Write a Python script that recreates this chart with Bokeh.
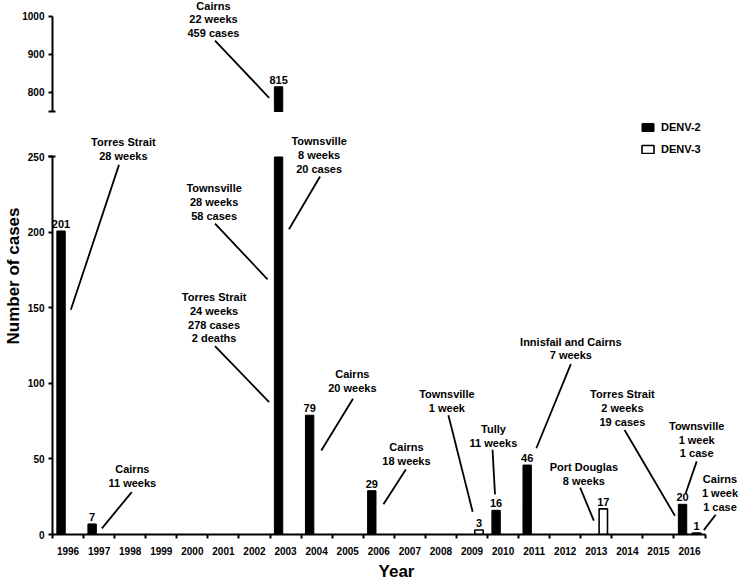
import numpy as np
from bokeh.plotting import figure
from bokeh.layouts import column
from bokeh.models import ColumnDataSource, Range1d, FixedTicker, Title
from bokeh.transform import dodge
from bokeh.core.properties import value
from bokeh.embed import file_html
from bokeh.resources import INLINE

# ---------------- data ----------------
years = list(range(1996, 2017))
year_labels = [str(y) for y in years]
denv2 = [201, 7, 0, 0, 0, 0, 0, 815, 79, 0, 29, 0, 0, 0, 16, 46, 0, 0, 0, 0, 20]
denv3 = [0, 0, 0, 0, 0, 0, 0, 0, 0, 0, 0, 0, 0, 3, 0, 0, 0, 17, 0, 0, 1]
lower_ticks = [0, 50, 100, 150, 200, 250]
upper_ticks = [800, 900, 1000]
lower_max = 250
upper_min = 750
upper_max = 1000

# outbreak annotations: text, text position, leader line (start -> end)
ann_text = [
    "Torres Strait\n28 weeks",
    "Townsville\n8 weeks\n20 cases",
    "Townsville\n28 weeks\n58 cases",
    "Torres Strait\n24 weeks\n278 cases\n2 deaths",
    "Cairns\n11 weeks",
    "Cairns\n20 weeks",
    "Cairns\n18 weeks",
    "Townsville\n1 week",
    "Tully\n11 weeks",
    "Innisfail and Cairns\n7 weeks",
    "Port Douglas\n8 weeks",
    "Torres Strait\n2 weeks\n19 cases",
    "Townsville\n1 week\n1 case",
    "Cairns\n1 week\n1 case",
]
ann_x = [1997.78, 2004.08, 2000.70, 2000.70, 1998.07, 2005.15, 2006.89, 2008.19, 2009.69, 2012.18, 2012.60, 2013.84, 2016.23, 2016.98]
ann_y = [255.3, 251.3, 220.1, 143.5, 38.6, 101.4, 53.3, 88.5, 65.0, 123.2, 40.1, 83.7, 62.8, 27.5]
ann_x0 = [1997.64, 2004.11, 2000.73, 2000.73, 1998.05, 2005.17, 2006.87, 2008.24, 2009.66, 2012.18, 2012.48, 2013.91, 2016.23, 2016.84]
ann_y0 = [244.8, 237.1, 205.9, 124.8, 28.1, 89.9, 43.0, 79.0, 56.1, 112.8, 31.0, 69.2, 48.4, 13.1]
ann_x1 = [1996.09, 2003.11, 2002.42, 2002.47, 1997.09, 2004.15, 2006.15, 2009.02, 2009.74, 2011.07, 2012.92, 2015.53, 2015.88, 2016.46]
ann_y1 = [148.8, 202.2, 169.0, 87.7, 4.1, 55.6, 20.1, 15.1, 26.6, 57.1, 9.2, 12.4, 27.5, 2.9]

up_text = ["Cairns\n22 weeks\n459 cases"]
up_x = [2000.68]
up_y = [992.1]
up_x0 = [2000.73]
up_y0 = [936.8]
up_x1 = [2002.47]
up_y1 = [786.1]

FONT = "Liberation Sans"
OFF2, OFF3, BW = -0.225, 0.225, 0.27

x_range = Range1d(1995.5, 2017.64)


def style_yaxis(p):
    ax = p.yaxis[0]
    ax.axis_line_width = 2
    ax.axis_line_color = "black"
    ax.major_tick_line_width = 2
    ax.major_tick_out = 4
    ax.major_tick_in = 0
    ax.minor_tick_line_width = 2
    ax.minor_tick_out = 4
    ax.minor_tick_in = 3
    ax.major_label_text_font = FONT
    ax.major_label_text_font_style = "bold"
    ax.major_label_text_font_size = "10px"
    ax.major_label_text_color = "black"
    ax.major_label_standoff = 4


def base(p):
    p.grid.visible = False
    p.outline_line_color = None
    p.background_fill_color = "white"
    p.border_fill_color = "white"


# ---------------- upper panel ----------------
up = figure(width=740, height=113, x_range=x_range, y_range=Range1d(744.7, 1042.1),
            output_backend="svg", toolbar_location=None, x_axis_location=None,
            min_border_left=52, min_border_right=0, min_border_top=0, min_border_bottom=0)
base(up)
up.yaxis.ticker = FixedTicker(ticks=upper_ticks, minor_ticks=[upper_min])
up.yaxis.bounds = (upper_min, upper_max)
style_yaxis(up)

big_years = [y for y, v in zip(years, denv2) if v > upper_min]
big_vals = [v for v in denv2 if v > upper_min]
src_up = ColumnDataSource(dict(year=big_years, top=big_vals, bottom=[upper_min] * len(big_vals),
                               lab=[str(v) for v in big_vals]))
up.vbar(x=dodge("year", OFF2), top="top", bottom="bottom", width=BW, source=src_up,
        fill_color="black", line_color="black")
up.text(x=dodge("year", OFF2), y="top", text="lab", source=src_up, text_align="center",
        text_baseline="bottom", y_offset=-3, text_font=value(FONT), text_font_style="bold",
        text_font_size="11px", text_color="black")
up.text(x=up_x, y=up_y, text=up_text, text_align="center", text_baseline="middle",
        text_font=value(FONT), text_font_style="bold", text_font_size="11px",
        text_line_height=1.15, text_color="black")
up.segment(x0=up_x0, y0=up_y0, x1=up_x1, y1=up_y1, line_color="black", line_width=1.8)

# ---------------- lower panel ----------------
lo = figure(width=740, height=470, x_range=x_range, y_range=Range1d(0, 278.8),
            output_backend="svg", toolbar_location=None,
            min_border_left=52, min_border_right=0, min_border_top=0, min_border_bottom=44)
base(lo)
lo.yaxis.ticker = FixedTicker(ticks=lower_ticks, minor_ticks=[lower_max])
lo.yaxis.bounds = (0, lower_max)
style_yaxis(lo)

xa = lo.xaxis[0]
xa.ticker = FixedTicker(ticks=years, minor_ticks=[y - 0.5 for y in years] + [years[-1] + 0.5])
xa.major_label_overrides = {y: l for y, l in zip(years, year_labels)}
xa.bounds = (years[0] - 0.5, years[-1] + 0.5)
xa.axis_line_width = 2
xa.axis_line_color = "black"
xa.major_tick_line_color = None
xa.major_tick_out = 0
xa.major_tick_in = 0
xa.minor_tick_line_width = 2
xa.minor_tick_line_color = "black"
xa.minor_tick_out = 4
xa.minor_tick_in = 0
xa.major_label_text_font = FONT
xa.major_label_text_font_style = "bold"
xa.major_label_text_font_size = "10px"
xa.major_label_text_color = "black"
xa.major_label_standoff = 8
xa.axis_label = "Year"
xa.axis_label_text_font = FONT
xa.axis_label_text_font_style = "bold"
xa.axis_label_text_font_size = "17px"
xa.axis_label_text_color = "black"
xa.axis_label_standoff = 4

d2 = [(y, v) for y, v in zip(years, denv2) if v > 0]
d3 = [(y, v) for y, v in zip(years, denv3) if v > 0]
src2 = ColumnDataSource(dict(year=[a for a, b in d2], top=[min(b, lower_max) for a, b in d2],
                             val=[b for a, b in d2]))
src3 = ColumnDataSource(dict(year=[a for a, b in d3], top=[min(b, lower_max) for a, b in d3],
                             val=[b for a, b in d3]))
lo.vbar(x=dodge("year", OFF2), top="top", bottom=0, width=BW, source=src2,
        fill_color="black", line_color="black", line_width=1, legend_label="DENV-2")
lo.vbar(x=dodge("year", OFF3), top="top", bottom=0, width=BW, source=src3,
        fill_color="white", line_color="black", line_width=1.6, legend_label="DENV-3")

lab2 = ColumnDataSource(dict(year=[a for a, b in d2 if b <= lower_max],
                             top=[b for a, b in d2 if b <= lower_max],
                             lab=[str(b) for a, b in d2 if b <= lower_max]))
lab3 = ColumnDataSource(dict(year=[a for a, b in d3 if b <= lower_max],
                             top=[b for a, b in d3 if b <= lower_max],
                             lab=[str(b) for a, b in d3 if b <= lower_max]))
for s, off in ((lab2, OFF2), (lab3, OFF3)):
    lo.text(x=dodge("year", off), y="top", text="lab", source=s, text_align="center",
            text_baseline="bottom", y_offset=-3, text_font=value(FONT), text_font_style="bold",
            text_font_size="11px", text_color="black")

lo.text(x=ann_x, y=ann_y, text=ann_text, text_align="center", text_baseline="middle",
        text_font=value(FONT), text_font_style="bold", text_font_size="11px",
        text_line_height=1.15, text_color="black")
lo.segment(x0=ann_x0, y0=ann_y0, x1=ann_x1, y1=ann_y1, line_color="black", line_width=1.8)

# y-axis title, placed over the whole broken axis (top end 94 px below the lower frame top)
ytitle = Title(text="Number of cases", align="right", offset=94, standoff=3,
               text_font=FONT, text_font_style="bold", text_font_size="17px",
               text_color="black")
lo.add_layout(ytitle, "left")

lg = lo.legend[0]
lg.location = (588, 379)
lg.padding = 0
lg.margin = 0
lg.spacing = 10
lg.border_line_color = None
lg.background_fill_alpha = 0
lg.glyph_width = 15
lg.glyph_height = 10
lg.label_height = 10
lg.label_standoff = 6
lg.label_text_font = FONT
lg.label_text_font_style = "bold"
lg.label_text_font_size = "11px"
lg.label_text_color = "black"

layout = column(up, lo, spacing=0)
open("out.html", "w").write(file_html(layout, INLINE))
